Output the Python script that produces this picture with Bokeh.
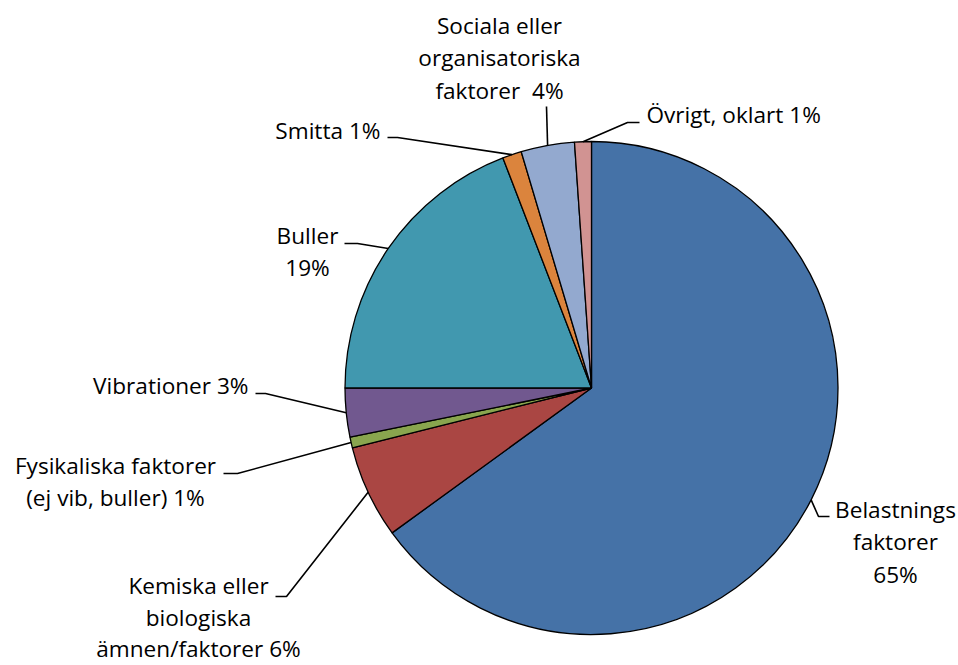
import math
from bokeh.plotting import figure
from bokeh.models import Range1d, ColumnDataSource
from bokeh.core.properties import value
from bokeh.embed import file_html
from bokeh.resources import INLINE

# ---- data ----
categories = [
    "Belastnings faktorer",
    "Kemiska eller biologiska ämnen/faktorer",
    "Fysikaliska faktorer (ej vib, buller)",
    "Vibrationer",
    "Buller",
    "Smitta",
    "Sociala eller organisatoriska faktorer",
    "Övrigt, oklart",
]
shares = [65.0, 6.1, 0.7, 3.2, 19.15, 1.25, 3.5, 1.1]
label_texts = [
    "Belastnings\nfaktorer\n65%",
    "Kemiska eller\nbiologiska\nämnen/faktorer 6%",
    "Fysikaliska faktorer\n(ej vib, buller) 1%",
    "Vibrationer 3%",
    "Buller\n19%",
    "Smitta 1%",
    "Sociala eller\norganisatoriska\nfaktorer  4%",
    "Övrigt, oklart 1%",
]
colors = ["#4572A7", "#AA4643", "#89A54E", "#71588F",
          "#4198AF", "#DB843D", "#93A9CF", "#D19392"]

# ---- layout (plot pixels, origin top-left) ----
W, H = 958, 665
CX, CY, R = 591, 387.5, 246.5
label_anchor_x = [895, 198, 115, 248, 307, 380, 499, 646]
label_align = ["center", "center", "center", "right", "center", "right", "center", "left"]
label_baseline = [517, 593, 473, 393, 243, 138, 33, 122]
label_step = [32.3, 31.5, 32.3, 32.3, 32.3, 32.3, 32.3, 32.3]
leader_start = [(829, 516), (275, 596), (223, 473), (255, 393), (344, 243), (387, 137), (546, 106), (639, 122)]
leader_elbow = [(818, 516), (286, 596), (237, 473), (265, 393), (357, 243), (397, 137), (546, 106), (627, 122)]
TEXT_DY = 8
FONT = "Open Sans"
FONT_SIZE = "22.6px"


def fy(y):
    return H - y


p = figure(width=W, height=H, x_range=Range1d(0, W), y_range=Range1d(0, H),
           output_backend="svg", toolbar_location=None,
           x_axis_location=None, y_axis_location=None, min_border=0)
p.grid.visible = False
p.outline_line_color = None
p.background_fill_color = "white"
p.border_fill_color = "white"

total = float(sum(shares))
starts, ends, mids = [], [], []
cum = 0.0
for s in shares:
    a0 = cum / total
    cum += s
    a1 = cum / total
    starts.append(math.pi / 2 - 2 * math.pi * a0)
    ends.append(math.pi / 2 - 2 * math.pi * a1)
    mids.append(math.pi / 2 - 2 * math.pi * (a0 + a1) / 2)

src = ColumnDataSource(dict(start=starts, end=ends, color=colors, cat=categories))
p.wedge(x=CX, y=fy(CY), radius=R, start_angle="start", end_angle="end",
        direction="clock", fill_color="color", line_color="#000000",
        line_width=1.3, source=src)

# leader lines
xs, ys = [], []
for i in range(len(shares)):
    ex = CX + R * math.cos(mids[i])
    ey = fy(CY) + R * math.sin(mids[i])
    sx, sy = leader_start[i]
    bx, by = leader_elbow[i]
    xs.append([sx, bx, ex])
    ys.append([fy(sy), fy(by), ey])
p.multi_line(xs=xs, ys=ys, line_color="#000000", line_width=1.6)

# labels
groups = {}
for i, lab in enumerate(label_texts):
    for j, line in enumerate(lab.split("\n")):
        g = groups.setdefault(label_align[i], dict(x=[], y=[], t=[]))
        g["x"].append(label_anchor_x[i])
        g["y"].append(fy(label_baseline[i] + j * label_step[i] - TEXT_DY))
        g["t"].append(line.replace("  ", " \u00a0"))
for al, g in groups.items():
    p.text(x=g["x"], y=g["y"], text=g["t"], text_align=al,
           text_baseline="alphabetic", text_font=value(FONT),
           text_font_size=value(FONT_SIZE), text_color="#000000")

open("out.html", "w").write(file_html(p, INLINE))
